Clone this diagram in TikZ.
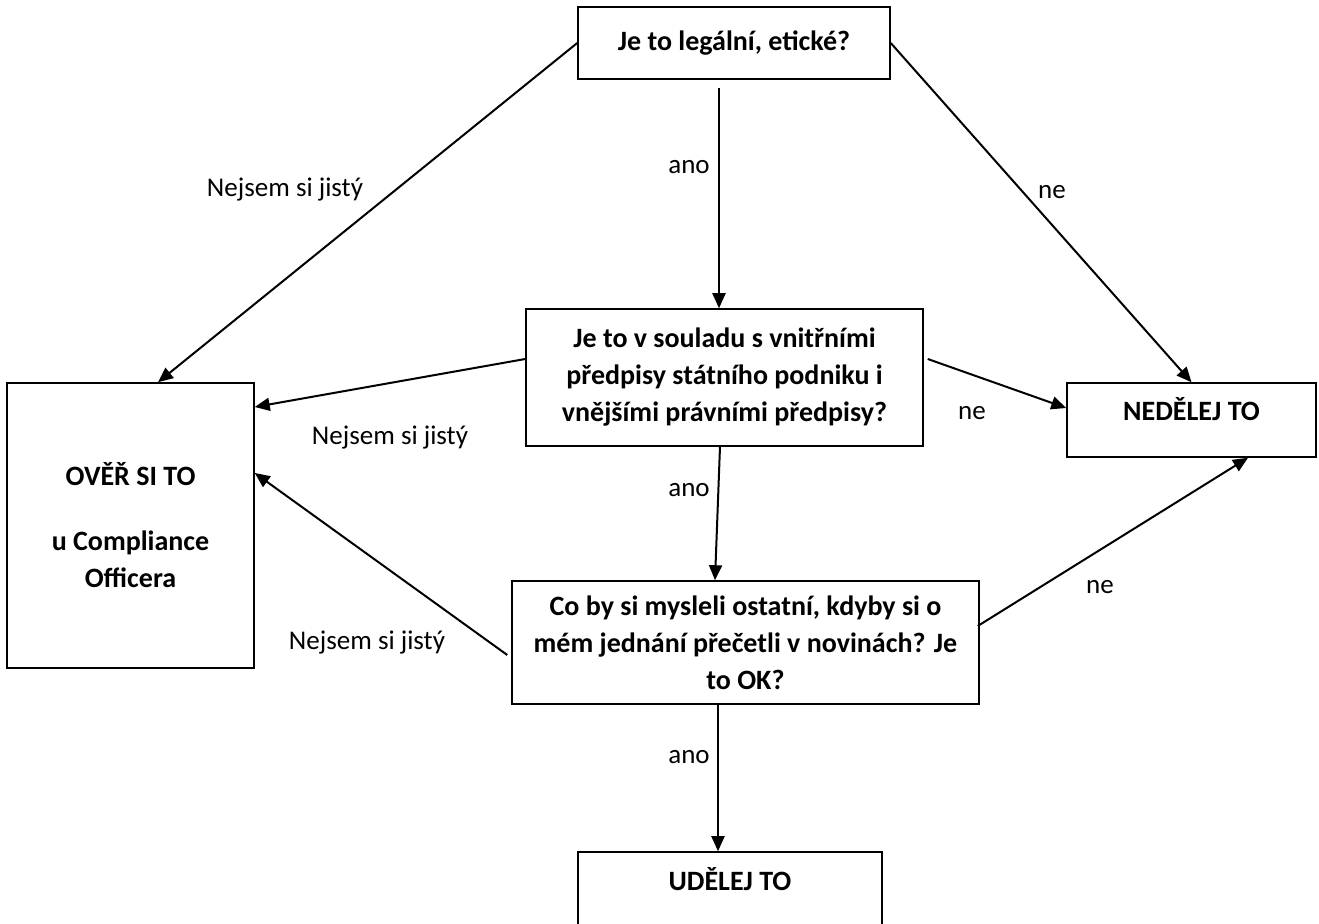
\documentclass[tikz,border=0pt]{standalone}
\usepackage{fontspec}
\setmainfont{Carlito}
\usetikzlibrary{arrows.meta}

\tikzset{
  box/.style={draw, line width=0.75pt, align=center, inner sep=0pt,
    font=\bfseries\fontsize{14pt}{18.5pt}\selectfont},
  arr/.style={line width=1pt, -{Triangle[length=7.5pt,width=6.5pt]}},
  lbl/.style={font=\fontsize{13.5pt}{16pt}\selectfont}
}

\begin{document}
\begin{tikzpicture}[x=0.5pt,y=-0.5pt]

\clip (0,0) rectangle (1319,924);

% Draw Question boxes

\node[box, minimum width=156pt, minimum height=36pt] (legal) at (734,43) {Je to legální, etické?};

\node[box, minimum width=198.5pt, minimum height=68.5pt] (soulad) at (724.5,377.5)
  {Je to v souladu s vnitřními\\ předpisy státního podniku i\\ vnějšími právními předpisy?};

\node[box, minimum width=233.5pt, minimum height=61.5pt] (noviny) at (745.5,642.5)
  {Co by si mysleli ostatní, kdyby si o\\ mém jednání přečetli v novinách? Je\\ to OK?};

% Draw Answer boxes

\node[box, minimum width=123.5pt, minimum height=142.5pt] (over) at (130.5,525.5)
  {OVĚŘ SI TO\\[14pt] u Compliance\\ Officera};

\node[box, minimum width=124.5pt, text height=19pt, text depth=18pt] (nedelej) at (1191.5,420) {NEDĚLEJ TO};

\node[box, minimum width=152pt, text height=19.5pt, text depth=24.5pt] (udelej) at (730,896) {UDĚLEJ TO};

% Draw Arrows from first question

\draw[arr] (legal.west) -- ([xshift=13.75pt]over.north);

\draw[arr] (legal.east) -- (nedelej.north);

\draw[arr] ([xshift=-7.5pt,yshift=-4pt]legal.south) -- ([xshift=-2.75pt]soulad.north);

% Draw Arrows from second question

\draw[arr] ([yshift=9.25pt]soulad.west) -- ([yshift=59.25pt]over.east);

\draw[arr] ([xshift=2pt,yshift=9.25pt]soulad.east) -- ([yshift=6pt]nedelej.west);

\draw[arr] ([xshift=-2.25pt]soulad.south) -- ([xshift=-15.25pt]noviny.north);

% Draw Arrows from third question

\draw[arr] ([xshift=-2pt,yshift=-6.25pt]noviny.west) -- ([yshift=26.25pt]over.east);

\draw[arr] ([xshift=-1pt,yshift=8.25pt]noviny.east) -- ([xshift=28.25pt]nedelej.south);

\draw[arr] ([xshift=-13.75pt]noviny.south) -- ([xshift=-6pt]udelej.north);

% Draw Labels on Arrows

\node[lbl] (l1) at (285,190) {Nejsem si jistý};

\node[lbl] (l2) at (689,167) {ano};

\node[lbl] (l3) at (1052,192) {ne};

\node[lbl] (l4) at (390,438) {Nejsem si jistý};

\node[lbl] (l5) at (972,413) {ne};

\node[lbl] (l6) at (689,490) {ano};

\node[lbl] (l7) at (367,643) {Nejsem si jistý};

\node[lbl] (l8) at (1100,587) {ne};

\node[lbl] (l9) at (689,757) {ano};

\end{tikzpicture}
\end{document}
